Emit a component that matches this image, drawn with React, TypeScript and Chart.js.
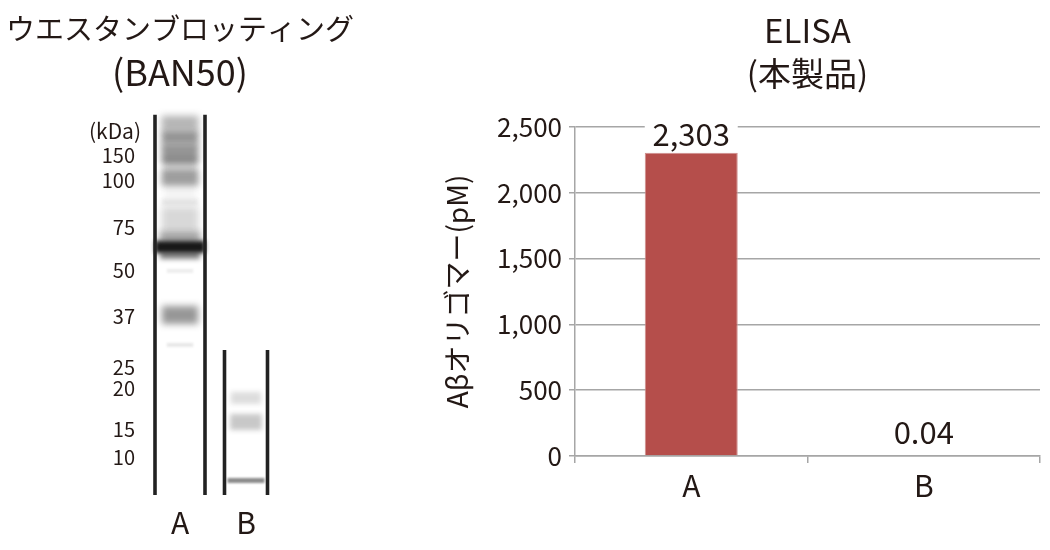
import React, { useEffect, useRef } from "react";
import { Chart, registerables } from "chart.js";

Chart.register(...registerables);

const FONT = '"Noto Sans CJK JP", "Noto Sans", sans-serif';
const INK = "#231815";

// ELISA panel
const elisaTitle = ["ELISA", "(本製品)"];
const elisaCategories = ["A", "B"];
const elisaValues = [2303, 0.04];
const elisaLabels = ["2,303", "0.04"];
const elisaAxisTitle = "Aβオリゴマー(pM)";

// Western blot panel (y values are migration distance on the gel)
const blotTitle = "ウエスタンブロッティング";
const blotSubtitle = "(BAN50)";
const blotLanes = ["A", "B"];
const markerLabels = ["150", "100", "75", "50", "37", "25", "20", "15", "10"];
const markerMigration = [156, 181, 228, 271, 316, 367, 388, 429, 457];
const laneStart = [115, 350];
const laneEnd = [495, 495];
const laneHalfWidth = [25, 21.5];

const bandLane = [0, 0, 0, 0, 0, 0, 0, 0, 0, 0, 0, 0, 0, 0, 1, 1, 1];
const bandTop = [116, 131, 144, 170, 199, 207, 232, 241, 251, 269, 306, 343, 158, 186, 392, 414, 478];
const bandBottom = [131, 144, 164, 186, 205, 232, 243, 253, 259, 273, 324, 347, 172, 198, 404, 430, 483];
const bandTone = [0.32, 0.46, 0.46, 0.42, 0.12, 0.17, 0.42, 1, 0.55, 0.08, 0.45, 0.1, 0.16, 0.05, 0.15, 0.24, 0.5];
const bandSpan = [0.56, 0.56, 0.56, 0.56, 0.56, 0.56, 0.62, 0.76, 0.6, 0.4, 0.55, 0.4, 0.5, 0.5, 0.46, 0.48, 0.56];
const bandBlur = [3.5, 3, 3, 3, 2, 3.5, 3.5, 2, 2.5, 1.2, 3.5, 1.2, 3, 3, 2.5, 2.5, 1.2];

const blurPlugin = {
  id: "bandBlur",
  beforeDatasetDraw(chart: any, args: any) {
    const ds = chart.data.datasets[args.index];
    chart.ctx.save();
    chart.ctx.filter = `blur(${ds.blur}px)`;
  },
  afterDatasetDraw(chart: any) {
    chart.ctx.restore();
  },
};

const railPlugin = {
  id: "rails",
  afterDatasetsDraw(chart: any) {
    const { ctx, scales } = chart;
    ctx.save();
    ctx.filter = "blur(0.6px)";
    ctx.strokeStyle = "#222222";
    ctx.lineWidth = 3.6;
    blotLanes.forEach((_, i) => {
      const cx = scales.x.getPixelForValue(i);
      [-1, 1].forEach((side) => {
        const x = cx + side * laneHalfWidth[i];
        ctx.beginPath();
        ctx.moveTo(x, scales.y.getPixelForValue(laneStart[i]));
        ctx.lineTo(x, scales.y.getPixelForValue(laneEnd[i]));
        ctx.stroke();
      });
    });
    ctx.restore();
    ctx.save();
    ctx.font = `21px ${FONT}`;
    ctx.fillStyle = INK;
    ctx.textAlign = "right";
    ctx.textBaseline = "middle";
    ctx.fillText("(kDa)", scales.x.left - 6, scales.y.getPixelForValue(131));
    ctx.restore();
  },
};

const valueLabelPlugin = {
  id: "valueLabels",
  afterDatasetsDraw(chart: any) {
    const { ctx } = chart;
    const bars = chart.getDatasetMeta(0).data;
    const gaps = [19, 24];
    ctx.save();
    ctx.font = `31px ${FONT}`;
    ctx.textAlign = "center";
    ctx.textBaseline = "middle";
    bars.forEach((bar: any, i: number) => {
      const y = bar.y - gaps[i];
      if (i === 0) {
        ctx.fillStyle = "#fff";
        ctx.fillRect(bar.x - bar.width / 2, y - 14, bar.width, 30);
      }
      ctx.fillStyle = INK;
      ctx.fillText(elisaLabels[i], bar.x, y);
    });
    ctx.restore();
  },
};

export default function App() {
  const blotRef = useRef<HTMLCanvasElement>(null);
  const elisaRef = useRef<HTMLCanvasElement>(null);

  useEffect(() => {
    const blot = new Chart(blotRef.current!, {
      type: "bar",
      plugins: [blurPlugin, railPlugin],
      data: {
        labels: blotLanes,
        datasets: bandTop.map((top, i) => ({
          data: blotLanes.map((_, lane) => (lane === bandLane[i] ? [top, bandBottom[i]] : null)),
          backgroundColor: `rgba(25,25,25,${bandTone[i]})`,
          barPercentage: bandSpan[i],
          categoryPercentage: 1,
          grouped: false,
          blur: bandBlur[i],
        })) as any,
      },
      options: {
        responsive: false,
        animation: false,
        layout: { padding: 0 },
        plugins: {
          legend: { display: false },
          tooltip: { enabled: false },
          title: {
            display: true,
            text: blotTitle,
            color: INK,
            font: { family: FONT, size: 29, weight: "normal", lineHeight: 1.2 },
            padding: { top: 12, bottom: 0 },
          },
          subtitle: {
            display: true,
            text: blotSubtitle,
            color: INK,
            font: { family: FONT, size: 36, weight: "normal", lineHeight: 1.2 },
            padding: { top: 4, bottom: 5.8 },
          },
        },
        scales: {
          x: {
            grid: { display: false },
            border: { display: false },
            ticks: { color: INK, font: { family: FONT, size: 30 }, padding: -3, maxRotation: 0 },
            afterFit: (s: any) => { s.height = 50; },
          },
          y: {
            reverse: true,
            min: 100,
            max: 500,
            grid: { display: false, drawTicks: false },
            border: { display: false },
            afterBuildTicks: (s: any) => { s.ticks = markerMigration.map((value) => ({ value })); },
            ticks: {
              autoSkip: false,
              color: INK,
              padding: 12,
              font: { family: FONT, size: 20 },
              callback: (v: any) => markerLabels[markerMigration.indexOf(v)],
            },
            afterFit: (s: any) => { s.width = 147; },
          },
          spacer: {
            type: "linear",
            position: "right",
            grid: { display: false },
            border: { display: false },
            ticks: { display: false },
            afterFit: (s: any) => { s.width = 81; },
          },
        },
      } as any,
    });

    const elisa = new Chart(elisaRef.current!, {
      type: "bar",
      plugins: [valueLabelPlugin],
      data: {
        labels: elisaCategories,
        datasets: [
          {
            data: elisaValues,
            backgroundColor: ["#b54e4b", "rgba(181,78,75,0)"],
            borderColor: ["#cf8f8d", "rgba(0,0,0,0)"],
            borderWidth: { left: 1, right: 1, top: 1, bottom: 0 },
            barPercentage: 0.4,
            categoryPercentage: 1,
          },
        ],
      },
      options: {
        responsive: false,
        animation: false,
        layout: { padding: { right: 10 } },
        plugins: {
          legend: { display: false },
          tooltip: { enabled: false },
          title: {
            display: true,
            text: elisaTitle,
            fullSize: false,
            color: INK,
            font: { family: FONT, size: 33, weight: "normal", lineHeight: 1.3 },
            padding: { top: 9.5, bottom: 31.6 },
          },
        },
        scales: {
          x: {
            grid: { drawOnChartArea: false, color: "#a6a6a6", lineWidth: 1.5, tickLength: 7, offset: true },
            border: { color: "#a6a6a6", width: 1.5 },
            ticks: { color: INK, font: { family: FONT, size: 30 }, padding: 5, maxRotation: 0 },
            afterFit: (s: any) => { s.height = 94; },
          },
          y: {
            min: 0,
            max: 2500,
            grid: { color: "#a6a6a6", lineWidth: 1.5, tickLength: 6 },
            border: { color: "#a6a6a6", width: 1.5 },
            ticks: {
              stepSize: 500,
              color: INK,
              padding: 7,
              font: { family: FONT, size: 26 },
              callback: (v: any) => Number(v).toLocaleString("en-US"),
            },
            title: {
              display: true,
              text: elisaAxisTitle,
              color: INK,
              font: { family: FONT, size: 28, weight: "normal" },
              padding: { top: 21, bottom: 0 },
            },
            afterFit: (s: any) => { s.width = 155; },
          },
        },
      } as any,
    });

    return () => {
      blot.destroy();
      elisa.destroy();
    };
  }, []);

  return (
    <div style={{ position: "absolute", left: 0, top: 0, width: 1050, height: 550, background: "#fff" }}>
      <canvas ref={blotRef} width={360} height={550} style={{ position: "absolute", left: 0, top: 0 }} />
      <canvas ref={elisaRef} width={630} height={550} style={{ position: "absolute", left: 420, top: 0 }} />
    </div>
  );
}
